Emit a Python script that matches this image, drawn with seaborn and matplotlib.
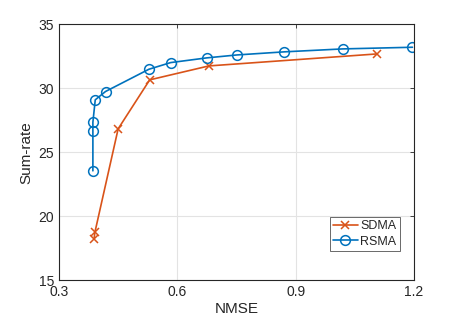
import matplotlib
matplotlib.use("Agg")
import matplotlib.pyplot as plt
import seaborn as sns
import pandas as pd

sdma_nmse = [0.389, 0.391, 0.450, 0.530, 0.680, 1.107]
sdma_rate = [18.2, 18.72, 26.82, 30.65, 31.74, 32.68]
rsma_nmse = [0.386, 0.386, 0.386, 0.392, 0.418, 0.528, 0.583, 0.675, 0.752, 0.871, 1.019, 1.196]
rsma_rate = [23.54, 26.64, 27.34, 29.09, 29.74, 31.48, 32.0, 32.37, 32.6, 32.84, 33.07, 33.2]
x_ticks = [0.3, 0.6, 0.9, 1.2]
y_ticks = [15, 20, 25, 30, 35]

sns.set_style("white")
plt.rcParams['font.family'] = ['Liberation Sans', 'DejaVu Sans']

fig = plt.figure(figsize=(4.57, 3.23), dpi=100)
ax = fig.add_axes([0.129, 0.133, 0.777, 0.792])

sdma = pd.DataFrame({"NMSE": sdma_nmse, "Sum-rate": sdma_rate})
rsma = pd.DataFrame({"NMSE": rsma_nmse, "Sum-rate": rsma_rate})

sns.lineplot(data=sdma, x="NMSE", y="Sum-rate", sort=False, estimator=None, ax=ax,
             color="#D95319", marker="x", markersize=6, markeredgewidth=1.1,
             markeredgecolor="#D95319", linewidth=1.2, label="SDMA")
sns.lineplot(data=rsma, x="NMSE", y="Sum-rate", sort=False, estimator=None, ax=ax,
             color="#0072BD", marker="o", markersize=7, markerfacecolor="none",
             markeredgecolor="#0072BD", markeredgewidth=1.1, linewidth=1.2, label="RSMA")

ax.set_xlim(0.3, 1.2)
ax.set_ylim(15, 35)
ax.set_xticks(x_ticks)
ax.set_xticklabels(["0.3", "0.6", "0.9", "1.2"])
ax.set_yticks(y_ticks)
ax.grid(True, color="#e3e3e3", linewidth=0.8)
ax.set_axisbelow(True)
for s in ax.spines.values():
    s.set_color("#262626")
    s.set_linewidth(0.8)
ax.tick_params(direction="in", length=3, width=0.6, colors="#262626", labelsize=10,
               top=True, right=True, labelcolor="#262626")
ax.set_xlabel("NMSE", fontsize=11, color="#262626", labelpad=2)
ax.set_ylabel("Sum-rate", fontsize=11, color="#262626", labelpad=4)
leg = ax.legend(loc="lower right", bbox_to_anchor=(0.97, 0.1), fontsize=9, frameon=True,
                fancybox=False, edgecolor="#262626", handlelength=2.0, handletextpad=0.2,
                borderpad=0.25, labelspacing=0.25, borderaxespad=0.3)
leg.get_frame().set_linewidth(0.6)

fig.savefig("out.png", dpi=100)
